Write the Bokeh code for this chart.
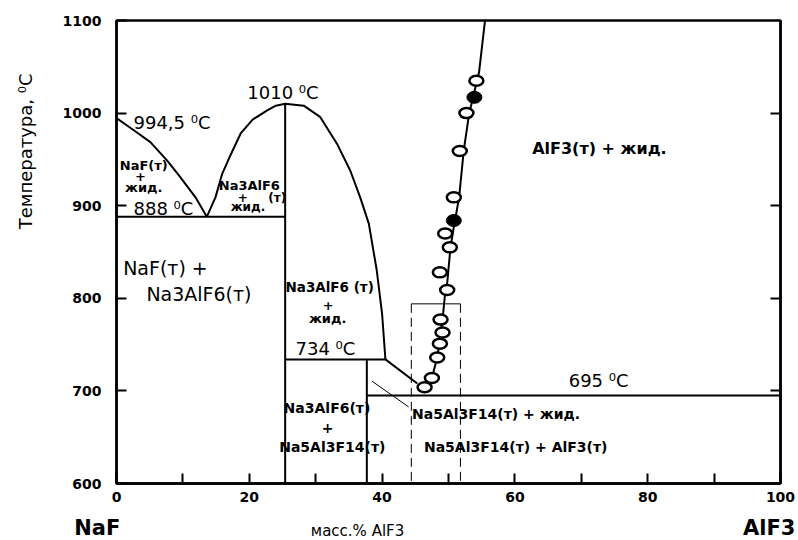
from bokeh.plotting import figure
from bokeh.layouts import column, row
from bokeh.models import Range1d, LinearAxis, FixedTicker
from bokeh.core.properties import value
from bokeh.embed import file_html
from bokeh.resources import INLINE

FONT = "DejaVu Sans"

# ---------------- data ----------------
x_ticks = [0, 20, 40, 60, 80, 100]
x_minor = [10, 30, 50, 70, 90]
y_ticks = [600, 700, 800, 900, 1000, 1100]
right_ticks = [700, 800, 900, 1000]

# NaF liquidus (994.5 C -> eutectic 888 C)
naf_liq_x = [0, 2.5, 5.1, 7.6, 9.4, 11.9, 13.6]
naf_liq_t = [994.5, 982, 968.6, 949, 932.7, 909, 888]

# Na3AlF6 liquidus (eutectic -> max 1010 C -> 734 C)
cryo_liq_x = [13.6, 14.9, 15.9, 17.0, 18.7, 20.5, 22.7, 24.0, 25.4,
              28.2, 30.7, 33.2, 35.2, 36.7, 38.0, 39.2, 40.0, 40.5]
cryo_liq_t = [888, 909, 934, 952, 978, 993, 1003, 1008, 1010,
              1008, 995.6, 967, 938, 909, 880.6, 830, 783, 734]

# Na5Al3F14 liquidus segment
na5_liq_x = [40.5, 45.3]
na5_liq_t = [734, 708]

# AlF3 liquidus
alf3_liq_x = [46.4, 47.5, 48.3, 48.8, 49.2, 49.5, 49.8, 50.3, 50.8, 51.6,
              52.3, 53.1, 54.6, 55.5]
alf3_liq_t = [704, 714, 736, 760, 784, 806, 816, 855, 877, 909,
              960, 999, 1044, 1100]

# horizontal / vertical phase boundaries
eut888_x, eut888_t = [0, 25.4], [888, 888]
cryo_vert_x, cryo_vert_t = [25.4, 25.4], [600, 1010]
per734_x, per734_t = [25.4, 40.5], [734, 734]
na5_vert_x, na5_vert_t = [37.7, 37.7], [600, 734]
eut695_x, eut695_t = [37.7, 100], [695, 695]

# leader line
leader_x, leader_t = [38.5, 44.0], [710.4, 682.7]

# dashed frame
box_top_x, box_top_t = [44.4, 51.8], [794, 794]
box_side_x = [44.4, 51.8]
box_side_t0 = [794, 794]
box_side_t1 = [600, 600]

# experimental points
open_x = [54.2, 52.7, 51.7, 50.8, 49.5, 50.2, 48.7, 49.8, 48.8, 49.1,
          48.7, 48.3, 47.5, 46.4]
open_t = [1035, 1000, 959, 909, 870, 855, 828, 809, 777, 763,
          751, 736, 714, 704]
filled_x = [53.9, 50.8]
filled_t = [1017, 884]

# ---------------- geometry ----------------
W, H = 798, 540
LEFT_STRIP = 50
BOTTOM_STRIP = 27
FRAME_L, FRAME_T, FRAME_W, FRAME_H = 116, 20, 664, 463
MAIN_H = H - BOTTOM_STRIP
PX_X = FRAME_W / 100.0
PX_T = FRAME_H / 500.0

# ---------------- main figure ----------------
p = figure(frame_width=FRAME_W, frame_height=FRAME_H, output_backend="svg",
           toolbar_location=None, x_range=Range1d(0, 100),
           y_range=Range1d(600, 1100),
           min_border_left=FRAME_L - LEFT_STRIP,
           min_border_right=W - FRAME_L - FRAME_W, min_border_top=FRAME_T,
           min_border_bottom=MAIN_H - FRAME_T - FRAME_H)
p.grid.visible = False
p.outline_line_color = "black"
p.outline_line_width = 2.5
p.background_fill_color = "white"
p.border_fill_color = "white"

xa = p.xaxis[0]
xa.ticker = FixedTicker(ticks=x_ticks, minor_ticks=x_minor)
ya = p.yaxis[0]
ya.ticker = FixedTicker(ticks=y_ticks)
for ax in (xa, ya):
    ax.axis_line_width = 2.5
    ax.axis_line_color = "black"
    ax.major_tick_in = 10
    ax.major_tick_out = 0
    ax.major_tick_line_width = 2
    ax.major_tick_line_color = "black"
    ax.minor_tick_in = 10
    ax.minor_tick_out = 0
    ax.minor_tick_line_width = 2
    ax.minor_tick_line_color = "black"
    ax.major_label_text_font = FONT
    ax.major_label_text_font_style = "bold"
    ax.major_label_text_font_size = "14px"
    ax.major_label_text_color = "black"
xa.major_label_standoff = 8
ya.major_label_standoff = 15
ya.minor_tick_in = 0

ra = LinearAxis(ticker=FixedTicker(ticks=right_ticks),
                major_label_overrides={t: "" for t in right_ticks},
                major_tick_in=10, major_tick_out=0, minor_tick_in=0, minor_tick_out=0,
                axis_line_width=2.5, major_tick_line_width=2, major_label_standoff=0)
p.add_layout(ra, "right")

LW = 2
for xs, ts in [(naf_liq_x, naf_liq_t), (cryo_liq_x, cryo_liq_t), (na5_liq_x, na5_liq_t),
               (alf3_liq_x, alf3_liq_t), (eut888_x, eut888_t), (cryo_vert_x, cryo_vert_t),
               (per734_x, per734_t), (na5_vert_x, na5_vert_t), (eut695_x, eut695_t)]:
    p.line(xs, ts, line_color="black", line_width=LW)

p.line(leader_x, leader_t, line_color="black", line_width=1)
p.line(box_top_x, box_top_t, line_color="black", line_width=1)
p.segment(x0=box_side_x, y0=box_side_t0, x1=box_side_x, y1=box_side_t1,
          line_color="black", line_width=1, line_dash="9 5")

p.ellipse(open_x, open_t, width=14, height=10, width_units="screen", height_units="screen",
          fill_color="white", line_color="black", line_width=2.5)
p.ellipse(filled_x, filled_t, width=15, height=12, width_units="screen", height_units="screen",
          fill_color="black", line_color="black", line_width=1)


def txt(fig, xs, ys, texts, size, bold=False, align="left", angle=0):
    fig.text(xs, ys, text=texts, text_font=value(FONT), text_font_size=size,
             text_font_style="bold" if bold else "normal", text_color="black",
             text_align=align, text_baseline="middle", angle=angle)


# temperatures (regular)
txt(p, [19.7, 2.56, 2.56, 26.96, 68.1], [1022.6, 990, 897, 745.7, 711.5],
    ["1010 \u2070C", "994,5 \u2070C", "888 \u2070C", "734  \u2070C", "695  \u2070C"], "18px")

# big region labels (regular)
txt(p, [1.0, 4.5], [832.3, 804.3], ["NaF(\u0442) +", "Na3AlF6(\u0442)"], "19px")

# small bold labels
txt(p, [4.1, 3.6, 4.1], [943.5, 931, 919.8], ["NaF(\u0442)", "+", "\u0436\u0438\u0434."], "13px", True, "center")
txt(p, [15.4], [922], ["Na3AlF6"], "13px", True)
txt(p, [24.2, 19.0, 19.8], [908, 909.3, 898.2], ["(\u0442)", "+", "\u0436\u0438\u0434."], "12px", True, "center")
txt(p, [25.45], [812], ["Na3AlF6 (\u0442)"], "13.5px", True)
txt(p, [31.9, 31.8], [792.4, 778.4], ["+", "\u0436\u0438\u0434."], "13px", True, "center")
txt(p, [31.7, 31.8, 32.5], [681, 659.7, 639.5],
    ["Na3AlF6(\u0442)", "+", "Na5Al3F14(\u0442)"], "14px", True, "center")
txt(p, [44.5, 46.3], [675.5, 639.5],
    ["Na5Al3F14(\u0442)  + \u0436\u0438\u0434.", "Na5Al3F14(\u0442)   + AlF3(\u0442)"], "14px", True)
txt(p, [62.6], [961.5], ["AlF3(\u0442) + \u0436\u0438\u0434."], "16px", True)

# ---------------- left strip (y axis title) ----------------
left = figure(width=LEFT_STRIP, height=MAIN_H, output_backend="svg", toolbar_location=None,
              x_range=Range1d(0, LEFT_STRIP),
              y_range=Range1d(600 - (MAIN_H - FRAME_T - FRAME_H) / PX_T, 1100 + FRAME_T / PX_T),
              x_axis_location=None, y_axis_location=None, min_border=0)
left.grid.visible = False
left.outline_line_color = None
txt(left, [25], [965], ["\u0422\u0435\u043c\u043f\u0435\u0440\u0430\u0442\u0443\u0440\u0430, \u2070C"],
    "18px", False, "center", 1.5708)

# ---------------- bottom strip (component names, x title) ----------------
bottom = figure(width=W, height=BOTTOM_STRIP, output_backend="svg", toolbar_location=None,
                x_range=Range1d(-FRAME_L / PX_X, (W - FRAME_L) / PX_X),
                y_range=Range1d(0, BOTTOM_STRIP),
                x_axis_location=None, y_axis_location=None, min_border=0)
bottom.grid.visible = False
bottom.outline_line_color = None
txt(bottom, [-2.9, 98.3], [13, 13], ["NaF", "AlF3"], "21px", True, "center")
txt(bottom, [36.3], [10], ["\u043c\u0430\u0441\u0441.% AlF3"], "15px", False, "center")

layout = column(row(left, p, spacing=0), bottom, spacing=0)
open("out.html", "w").write(file_html(layout, INLINE))
